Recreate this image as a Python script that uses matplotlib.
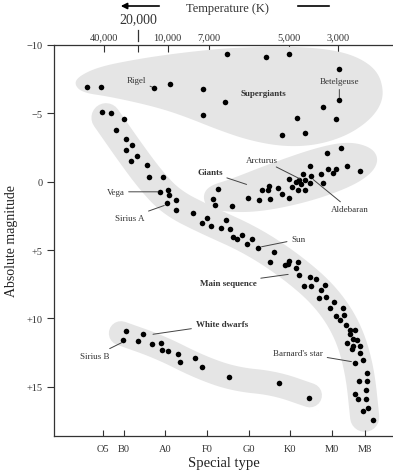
import numpy as np
import matplotlib
matplotlib.use("Agg")
import matplotlib.pyplot as plt

# spectral class index: O0=0, B0=1, A0=2, F0=3, G0=4, K0=5, M0=6
spec_ticks = [0.5, 1, 2, 3, 4, 5, 6, 6.8]
spec_labels = ["O5", "B0", "A0", "F0", "G0", "K0", "M0", "M8"]

temp_ticks = [0.52, 1.34, 2.05, 3.05, 4.97, 6.14]
temp_labels = ["40,000", "", "10,000", "7,000", "5,000", "3,000"]

mag_ticks = [-10, -5, 0, 5, 10, 15]
mag_labels = ["\u221210", "\u22125", "0", "+5", "+10", "+15"]

# stars
super_sp = [0.12, 0.46, 1.72, 2.11, 2.91, 3.47, 4.41, 4.97, 6.18, 3.44, 2.91, 6.18, 5.78, 5.17, 6.11, 4.81, 5.36]
super_mag = [-6.93, -6.93, -6.88, -7.12, -6.79, -9.34, -9.15, -9.34, -8.25, -5.84, -4.86, -6.0, -5.44, -4.67, -4.57, -3.43, -3.59]

giant_sp = [5.88, 6.23, 5.47, 5.91, 6.11, 6.37, 6.67, 6.03, 5.75, 5.30,
            4.97, 5.50, 5.21, 5.15, 5.35, 5.27, 5.47, 5.78, 5.35, 5.03,
            5.19, 4.71, 4.49, 4.47, 4.31, 4.81, 4.97, 4.51, 4.25, 3.99,
            3.27, 3.15, 3.19, 3.61]
giant_mag = [-2.11, -2.43, -1.13, -0.94, -0.96, -1.13, -0.77, -0.65, -0.53, -0.58,
             -0.21, -0.40, -0.16, 0.01, -0.11, 0.15, 0.08, 0.13, 0.64, 0.40,
             0.62, 0.45, 0.33, 0.64, 0.64, 0.93, 1.18, 1.23, 1.37, 1.18,
             0.57, 1.23, 1.67, 1.79]

ms_sp = [0.48, 0.70, 1.01, 0.82, 1.06, 1.19, 1.06, 1.32, 1.18, 1.55,
         1.61, 1.94, 1.88, 2.06, 2.09, 2.25, 2.04, 2.25, 2.65, 2.99,
         2.87, 3.10, 3.34, 3.46, 3.54, 3.63, 3.73, 3.85, 3.95, 4.08,
         4.22, 4.61, 4.51, 4.87, 4.94, 4.97, 5.18, 5.15, 5.21, 5.47,
         5.62, 5.33, 5.51, 5.84, 5.75, 5.69, 5.87, 6.05, 5.95, 6.26,
         6.11, 6.29, 6.19, 6.34, 6.44, 6.55, 6.43, 6.37, 6.50, 6.61,
         6.51, 6.67, 6.48, 6.67, 6.55, 6.74, 6.84, 6.66, 6.84, 6.82,
         6.55, 6.64, 6.82, 6.87, 6.76, 6.98]
ms_mag = [-5.08, -5.03, -4.62, -3.81, -3.13, -2.72, -2.35, -1.91, -1.55, -1.21,
          -0.36, -0.36, 0.74, 0.62, 0.99, 1.35, 1.54, 2.08, 2.32, 2.64,
          3.05, 3.22, 3.37, 2.81, 3.43, 4.02, 4.17, 3.93, 4.59, 4.20,
          4.84, 5.14, 5.88, 6.12, 6.00, 5.79, 5.87, 6.32, 6.80, 6.96,
          7.12, 7.63, 7.66, 7.56, 7.95, 8.51, 8.44, 8.77, 9.21, 9.21,
          9.81, 9.74, 10.09, 10.50, 10.87, 10.87, 11.16, 11.77, 11.53, 11.58,
          12.00, 12.02, 12.26, 12.50, 13.23, 13.06, 13.96, 14.60, 14.60, 15.22,
          15.54, 15.93, 15.91, 16.53, 16.75, 17.42]

wd_sp = [1.05, 0.98, 1.46, 1.33, 1.67, 1.89, 1.91, 2.07, 2.31, 2.36, 2.71, 2.87, 3.53, 4.73, 5.45]
wd_mag = [10.92, 11.58, 11.12, 11.65, 11.89, 11.80, 12.33, 12.38, 12.57, 13.18, 12.91, 13.59, 14.30, 14.69, 15.79]

# shaded regions
super_zone_sp = [-0.20, -0.06, 0.42, 1.26, 2.03, 2.83, 3.62, 4.99, 6.02, 6.67, 7.11, 7.25,
                 7.15, 6.84, 6.31, 5.59, 4.82, 4.03, 3.31, 2.35, 1.63, 0.66, -0.01]
super_zone_mag = [-7.17, -7.76, -8.42, -8.93, -9.29, -9.58, -9.80, -9.91, -9.66, -9.07, -8.05, -6.59,
                  -5.42, -4.32, -3.30, -2.65, -2.57, -3.01, -3.74, -4.91, -5.57, -6.22, -6.52]
giant_zone_sp = [2.90, 2.97, 3.31, 4.20, 5.40, 6.43, 6.96, 7.13, 6.96, 6.43, 5.71, 4.58, 3.55, 3.07]
giant_zone_mag = [0.94, 1.81, 2.18, 2.25, 1.52, 0.42, -0.60, -1.62, -2.50, -2.94, -2.57, -1.40, -0.16, 0.28]
ms_band_sp = [0.57, 1.07, 1.63, 2.15, 2.95, 4.03, 4.99, 5.83, 6.38, 6.67, 6.79]
ms_band_mag = [-4.68, -2.49, -0.16, 1.52, 2.76, 4.22, 6.12, 8.31, 10.80, 13.72, 17.23]
wd_band_sp = [0.93, 1.87, 2.83, 3.67, 4.63, 5.47]
wd_band_mag = [11.09, 12.10, 13.57, 14.45, 14.74, 15.62]


def chaikin(xs, ys, closed, n=4):
    pts = np.column_stack([xs, ys]).astype(float)
    for _ in range(n):
        if closed:
            a, b = pts, np.roll(pts, -1, axis=0)
        else:
            a, b = pts[:-1], pts[1:]
        q = 0.75 * a + 0.25 * b
        r = 0.25 * a + 0.75 * b
        new = np.empty((2 * len(q), 2))
        new[0::2] = q
        new[1::2] = r
        if not closed:
            new = np.vstack([pts[0], new, pts[-1]])
        pts = new
    return pts[:, 0], pts[:, 1]


plt.rcParams['font.family'] = ['Liberation Serif', 'DejaVu Serif']
shade = '#e5e5e5'
txt = '#333333'

fig = plt.figure(figsize=(3.93, 4.77), dpi=100)
ax = fig.add_axes([0.1374, 0.0839, 0.8626, 0.8197])

# shaded groups
for zs, zm in [(super_zone_sp, super_zone_mag), (giant_zone_sp, giant_zone_mag)]:
    x, y = chaikin(zs, zm, True)
    ax.fill(x, y, color=shade, lw=0, zorder=1)
for bs, bm, w in [(ms_band_sp, ms_band_mag, 21.0), (wd_band_sp, wd_band_mag, 17.5)]:
    x, y = chaikin(bs, bm, False)
    ax.plot(x, y, color=shade, lw=w, solid_capstyle='round', solid_joinstyle='round', zorder=1)

for sp, mg in [(super_sp, super_mag), (giant_sp, giant_mag), (ms_sp, ms_mag), (wd_sp, wd_mag)]:
    ax.scatter(sp, mg, s=16, color='black', lw=0, zorder=3)

# star names
line = dict(arrowstyle='-', color='#444444', lw=0.7, shrinkA=1, shrinkB=0)
notes = [
    ("Rigel", (1.30, -7.46), (1.67, -6.93)),
    ("Betelgeuse", (6.18, -7.34), (6.18, -6.15)),
    ("Arcturus", (4.31, -1.62), (5.23, -0.21)),
    ("Aldebaran", (6.43, 2.03), (5.55, -0.16)),
    ("Vega", (0.80, 0.74), (1.82, 0.74)),
    ("Sirius A", (1.14, 2.64), (1.97, 1.74)),
    ("Sun", (5.19, 4.22), (4.31, 4.76)),
    ("Sirius B", (0.30, 12.75), (0.95, 11.77)),
    ("Barnard's star", (5.19, 12.5), (6.47, 13.16)),
]
for label, pos, tip in notes:
    ax.annotate(label, xy=tip, xytext=pos, ha='center', va='center', fontsize=6.5,
                color=txt, arrowprops=line, zorder=4)

bold_notes = [
    ("Supergiants", (4.35, -6.49), None),
    ("Giants", (3.07, -0.69), (3.95, 0.20)),
    ("Main sequence", (3.51, 7.39), (4.95, 6.78)),
    ("White dwarfs", (3.35, 10.43), (1.70, 11.16)),
]
for label, pos, tip in bold_notes:
    if tip is None:
        ax.text(pos[0], pos[1], label, ha='center', va='center', fontsize=6.5,
                fontweight='bold', color=txt, zorder=4)
    else:
        ax.annotate(label, xy=tip, xytext=pos, ha='center', va='center', fontsize=6.5,
                    fontweight='bold', color=txt, arrowprops=line, zorder=4)

ax.set_xlim(-0.68, 7.47)
ax.set_ylim(18.6, -9.95)

ax.set_xticks(spec_ticks)
ax.set_xticklabels(spec_labels)
ax.set_yticks(mag_ticks)
ax.set_yticklabels(mag_labels)
ax.tick_params(axis='x', direction='in', length=4, width=0.8, pad=6, labelsize=7.5, colors='#333333')
ax.tick_params(axis='y', direction='out', length=5, width=0.8, pad=3, labelsize=7.5, colors='#333333')

for side in ['top', 'left', 'bottom']:
    ax.spines[side].set_color('#333333')
    ax.spines[side].set_linewidth(0.9)
ax.spines['right'].set_visible(False)

top = ax.secondary_xaxis('top')
top.set_xticks(temp_ticks)
top.set_xticklabels(temp_labels)
top.tick_params(direction='in', length=5, width=0.8, pad=3, labelsize=7.5, colors='#333333')
top.spines['top'].set_visible(False)

tr = ax.get_xaxis_transform()
ax.text(1.34, 1.066, "20,000", transform=tr, ha='center', va='center', fontsize=10,
        color='#333333', clip_on=False)
ax.plot([1.34, 1.34], [1.011, 1.039], transform=tr, color='#333333', lw=0.9, clip_on=False)

fig.text(227 / 393, 1 - 9 / 477, "Temperature (K)", ha='center', va='center', fontsize=9, color='#333333')
ax.annotate('', xy=(118 / 393, 1 - 7 / 477), xytext=(162 / 393, 1 - 7 / 477),
            xycoords='figure fraction', textcoords='figure fraction',
            arrowprops=dict(arrowstyle='-|>', color='black', lw=1.2, mutation_scale=9))
ax.annotate('', xy=(295 / 393, 1 - 7 / 477), xytext=(332 / 393, 1 - 7 / 477),
            xycoords='figure fraction', textcoords='figure fraction',
            arrowprops=dict(arrowstyle='-', color='black', lw=1.2))

ax.set_xlabel("Special type", fontsize=10.5, color='#222222', labelpad=2)
ax.set_ylabel("Absolute magnitude", fontsize=10, color='#222222', labelpad=6)

fig.savefig("out.png", dpi=100)
